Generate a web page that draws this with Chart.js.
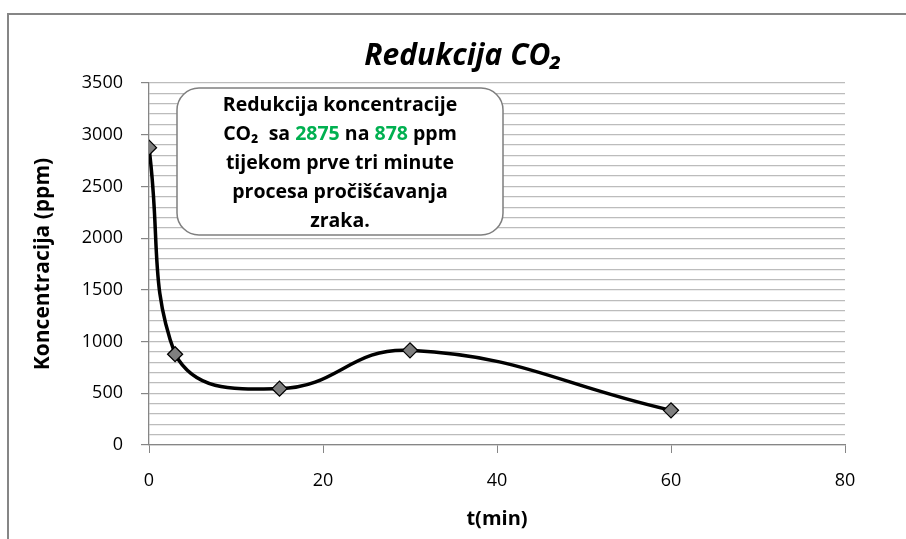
<!DOCTYPE html>
<html>
<head>
<meta charset="utf-8">
<script src="https://cdn.jsdelivr.net/npm/chart.js@4"></script>
<style>
  html, body { margin: 0; padding: 0; background: #fff; }
  #wrap { width: 906px; height: 539px; position: relative; }
</style>
</head>
<body>
<div id="wrap"><canvas id="co2Chart" width="906" height="539"></canvas></div>
<script>
// data
const times = [0, 3, 15, 30, 60];
const concentration = [2875, 878, 545, 915, 335];
const xTicks = [0, 20, 40, 60, 80];
const yMajorStep = 500;

const chartTitle = 'Redukcija CO\u2082';
const xTitle = 't(min)';
const yTitle = 'Koncentracija (ppm)';
// note lines, each a list of [text, colour] parts
const noteLines = [
    [['Redukcija koncentracije', '#000']],
    [['CO\u2082  sa ', '#000'], ['2875', '#00B050'], [' na ', '#000'], ['878', '#00B050'], [' ppm', '#000']],
    [['tijekom prve tri minute', '#000']],
    [['procesa pro\u010Di\u0161\u0107avanja', '#000']],
    [['zraka.', '#000']]
];

const FONT = '"Open Sans", Lato, sans-serif';

// frame, title and the rounded note box
const decorations = {
    id: 'decorations',
    beforeDraw(chart) {
        const c = chart.ctx;
        c.save();
        c.fillStyle = '#fff';
        c.fillRect(0, 0, chart.width, chart.height);
        c.strokeStyle = '#868686';
        c.lineWidth = 2;
        c.beginPath();
        c.moveTo(8, chart.height + 5);
        c.lineTo(8, 14);
        c.lineTo(chart.width + 5, 14);
        c.stroke();

        c.fillStyle = '#000';
        c.font = 'italic bold 30px ' + FONT;
        c.textAlign = 'center';
        c.textBaseline = 'middle';
        c.fillText(chartTitle, 463, 56);
        c.restore();
    },
    afterDatasetsDraw(chart) {
        const c = chart.ctx;
        const bx = 177, by = 88, bw = 326, bh = 147;
        c.save();
        c.beginPath();
        c.roundRect(bx, by, bw, bh, 22);
        c.fillStyle = '#fff';
        c.fill();
        c.strokeStyle = '#7f7f7f';
        c.lineWidth = 1.5;
        c.stroke();

        c.font = 'bold 19.5px ' + FONT;
        c.textBaseline = 'middle';
        c.textAlign = 'left';
        const cx = bx + bw / 2;
        noteLines.forEach((parts, i) => {
            const total = parts.reduce((s, p) => s + c.measureText(p[0]).width, 0);
            let x = cx - total / 2;
            const y = 105 + i * 29;
            parts.forEach(p => {
                c.fillStyle = p[1];
                c.fillText(p[0], x, y);
                x += c.measureText(p[0]).width;
            });
        });
        c.restore();
    }
};

const ctx = document.getElementById('co2Chart').getContext('2d');
const co2Chart = new Chart(ctx, {
    type: 'line',
    data: {
        datasets: [{
            label: chartTitle,
            data: times.map((t, i) => ({ x: t, y: concentration[i] })),
            borderColor: '#000',
            borderWidth: 3.5,
            tension: 0.45,
            pointStyle: 'rectRot',
            pointRadius: 7.5,
            pointBackgroundColor: '#7f7f7f',
            pointBorderColor: '#000',
            pointBorderWidth: 1.3
        }]
    },
    options: {
        responsive: false,
        animation: false,
        layout: { padding: { left: 0, top: 83, right: 61, bottom: 0 } },
        plugins: {
            legend: { display: false },
            tooltip: { enabled: false }
        },
        scales: {
            x: {
                type: 'linear',
                min: 0,
                max: 80,
                afterBuildTicks: scale => { scale.ticks = xTicks.map(v => ({ value: v })); },
                afterFit: scale => { scale.height = 94; },
                ticks: {
                    color: '#000',
                    font: { family: FONT, size: 18 },
                    padding: 17,
                    maxRotation: 0
                },
                grid: {
                    drawOnChartArea: false,
                    tickLength: 8,
                    tickColor: '#868686'
                },
                border: { color: '#868686', width: 1.3 },
                title: {
                    display: true,
                    text: xTitle,
                    color: '#000',
                    font: { family: FONT, size: 20, weight: 'bold' },
                    padding: { bottom: 8 }
                }
            },
            y: {
                min: 0,
                max: 3500,
                afterFit: scale => { scale.width = 149; },
                ticks: {
                    stepSize: 100,
                    autoSkip: false,
                    color: '#000',
                    font: { family: FONT, size: 18 },
                    padding: 18,
                    callback: v => (v % yMajorStep === 0 ? v : '')
                },
                grid: {
                    color: '#bcbcbc',
                    lineWidth: 1.2,
                    tickLength: 8,
                    tickColor: c => (c.tick && c.tick.value % yMajorStep === 0 ? '#868686' : 'rgba(0,0,0,0)')
                },
                border: { color: '#868686', width: 1.3 },
                title: {
                    display: true,
                    text: yTitle,
                    color: '#000',
                    font: { family: FONT, size: 21, weight: 'bold' },
                    padding: { top: 30 }
                }
            }
        }
    },
    plugins: [decorations]
});
</script>
</body>
</html>
